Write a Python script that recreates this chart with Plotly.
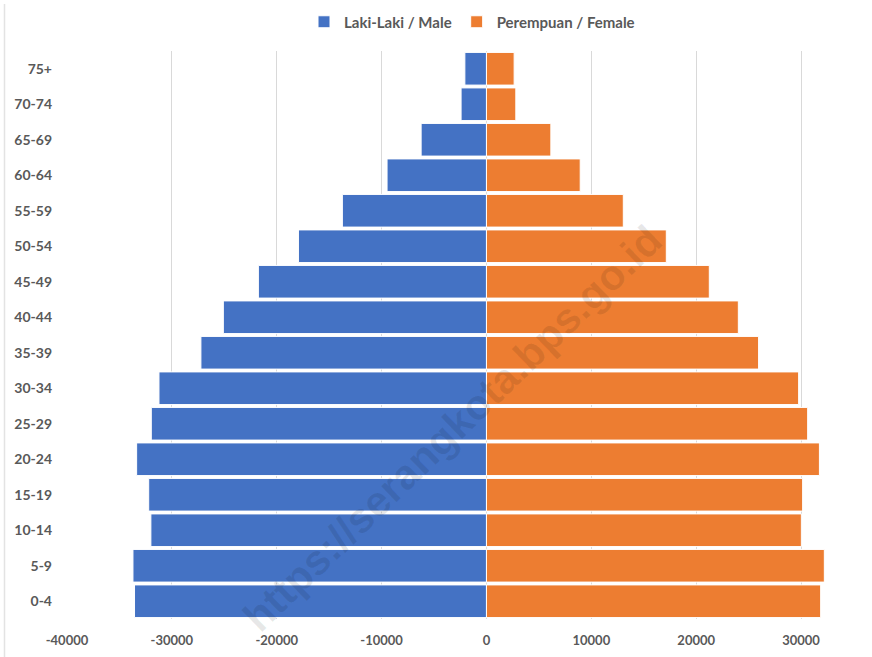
import plotly.graph_objects as go

age_groups = ["0-4", "5-9", "10-14", "15-19", "20-24", "25-29", "30-34", "35-39",
              "40-44", "45-49", "50-54", "55-59", "60-64", "65-69", "70-74", "75+"]
male = [33560, 33710, 32000, 32210, 33360, 31960, 31230, 27230,
        25090, 21750, 17930, 13740, 9480, 6230, 2420, 2060]
female = [31870, 32220, 30030, 30150, 31750, 30630, 29770, 25950,
          24020, 21250, 17150, 13050, 8940, 6140, 2800, 2640]
x_ticks = [-40000, -30000, -20000, -10000, 0, 10000, 20000, 30000]

male_name = "Laki-Laki / Male"
female_name = "Perempuan / Female"

W, H = 872, 657
L, R, T, B = 67, 29, 51, 38
pw, ph = W - L - R, H - T - B

def px(x):
    return (x - L) / pw

def py(y):
    return (H - B - y) / ph

font_fam = "Lato"
txt_col = "#595959"

fig = go.Figure()
fig.add_trace(go.Bar(
    y=age_groups, x=[-v for v in male], name=male_name, orientation="h",
    marker=dict(color="#4472C4", line=dict(color="white", width=1)),
))
fig.add_trace(go.Bar(
    y=age_groups, x=female, name=female_name, orientation="h",
    marker=dict(color="#ED7D31", line=dict(color="white", width=1)),
))

fig.update_layout(
    width=W, height=H,
    margin=dict(l=L, r=R, t=T, b=B, autoexpand=False),
    barmode="overlay",
    bargap=0.08,
    paper_bgcolor="white",
    plot_bgcolor="white",
    font=dict(family=font_fam, size=13, color=txt_col, weight="bold"),
    legend=dict(
        orientation="h", x=px(472), xanchor="center", y=py(22), yanchor="middle",
        font=dict(family=font_fam, size=15, color=txt_col, weight="bold"),
        itemwidth=30, traceorder="normal", tracegroupgap=0,
    ),
    xaxis=dict(
        range=[-40000, 34000], automargin=False,
        tickmode="array", tickvals=x_ticks, ticktext=[str(v) for v in x_ticks],
        showgrid=True, gridcolor="#d9d9d9", gridwidth=1,
        zeroline=False, showline=False, ticks="",
        ticklabelstandoff=12,
        tickfont=dict(family=font_fam, size=13, color=txt_col, weight="bold"),
    ),
    yaxis=dict(
        categoryorder="array", categoryarray=age_groups, automargin=False,
        showgrid=False, zeroline=False, showline=False, ticks="",
        ticklabelstandoff=14,
        tickfont=dict(family=font_fam, size=14, color=txt_col, weight="bold"),
    ),
    shapes=[dict(
        type="line", xref="paper", yref="paper",
        x0=px(4.5), x1=px(4.5), y0=py(4), y1=py(H + 5),
        line=dict(color="#e3e3e3", width=1.5),
    )],
    annotations=[dict(
        text="https://serangkota.bps.go.id",
        xref="paper", yref="paper", x=px(452), y=py(428),
        xanchor="center", yanchor="middle",
        showarrow=False, textangle=-44,
        font=dict(family="Liberation Sans", size=42, color="rgba(0,0,0,0.09)", weight="bold"),
    )],
)

fig.write_html("out.html", config={"displayModeBar": False},
               post_script="document.body.style.margin='0';")
